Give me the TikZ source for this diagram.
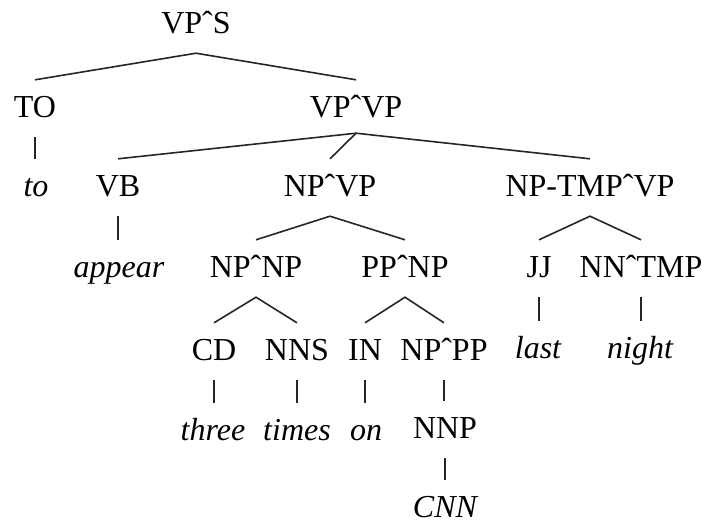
\documentclass[tikz,border=0pt]{standalone}
\usepackage{fontspec}
\setmainfont{Liberation Serif}
\begin{document}
\begin{tikzpicture}[x=1pt,y=-1pt,
  cat/.style={inner xsep=0pt, inner ysep=16pt, text height=21pt, text depth=4pt,
              anchor=base, font=\fontsize{32}{32}\selectfont},
  word/.style={cat, font=\fontsize{32}{32}\selectfont\itshape},
  edge/.style={line width=1.6pt, draw=black!85}]
\useasboundingbox (0,0) rectangle (708,523);

% categories and words
\node[cat]  (vps)     at (196,33)  {VPˆS};
\node[cat]  (to)      at (35,117)  {TO};
\node[cat]  (vpvp)    at (356,117) {VPˆVP};
\node[word] (wto)     at (36,196)  {to};
\node[cat]  (vb)      at (118,196) {VB};
\node[cat]  (npvp)    at (330,196) {NPˆVP};
\node[cat]  (nptmp)   at (590,196) {NP-TMPˆVP};
\node[word] (wappear) at (119,277) {appear};
\node[cat]  (npnp)    at (256,277) {NPˆNP};
\node[cat]  (ppnp)    at (405,277) {PPˆNP};
\node[cat]  (jj)      at (539,277) {JJ};
\node[cat]  (nntmp)   at (641,277) {NNˆTMP};
\node[cat]  (cd)      at (214,360) {CD};
\node[cat]  (nns)     at (297,360) {NNS};
\node[cat]  (in)      at (365,360) {IN};
\node[cat]  (nppp)    at (444,360) {NPˆPP};
\node[word] (wlast)   at (538,358) {last};
\node[word] (wnight)  at (640,358) {night};
\node[word] (wthree)  at (213,440) {three};
\node[word] (wtimes)  at (297,440) {times};
\node[word] (won)     at (366,440) {on};
\node[cat]  (nnp)     at (445,438) {NNP};
\node[word] (wcnn)    at (445,517) {CNN};

% branches
\draw[edge] (to.north) -- (vps.south) -- (vpvp.north);
\draw[edge] (vb.north) -- ([yshift=4pt]vpvp.south) -- (nptmp.north);
\draw[edge] ([yshift=4pt]vpvp.south) -- (npvp.north);
\draw[edge] (npnp.north) -- (npvp.south) -- (ppnp.north);
\draw[edge] (jj.north) -- (nptmp.south) -- (nntmp.north);
\draw[edge] (cd.north) -- (npnp.south) -- (nns.north);
\draw[edge] (in.north) -- (ppnp.south) -- (nppp.north);

% unary links
\draw[edge] (to) -- (wto.north -| to);
\draw[edge] (vb) -- (wappear.north -| vb);
\draw[edge] (jj) -- (wlast.north -| jj);
\draw[edge] (nntmp) -- (wnight.north -| nntmp);
\draw[edge] (cd) -- (wthree.north -| cd);
\draw[edge] (nns) -- (wtimes.north -| nns);
\draw[edge] (in) -- (won.north -| in);
\draw[edge] (nppp) -- (nnp.north -| nppp);
\draw[edge] (nnp) -- (wcnn.north -| nnp);
\end{tikzpicture}
\end{document}
